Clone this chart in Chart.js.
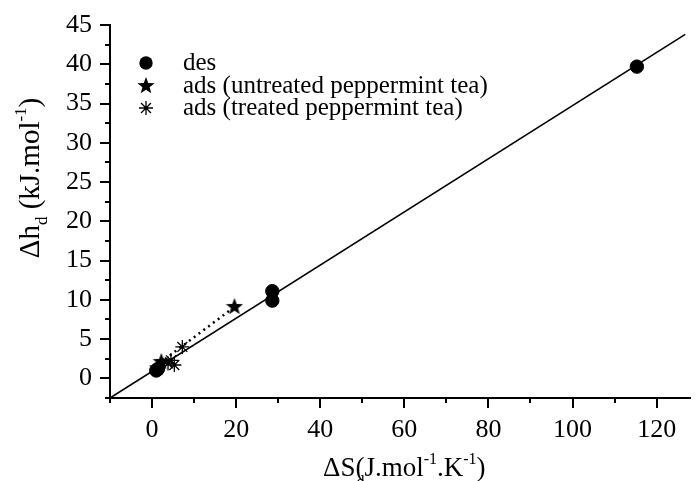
<!DOCTYPE html>
<html>
<head>
<meta charset="utf-8">
<script src="https://cdn.jsdelivr.net/npm/chart.js@4/dist/chart.umd.min.js"></script>
<style>
  html, body { margin: 0; padding: 0; background: #fff; }
  #wrap { width: 699px; height: 481px; }
</style>
</head>
<body>
<div id="wrap"><canvas id="chart" width="699" height="481"></canvas></div>
<script>
// desorption
const desX = [1.0, 1.4, 28.6, 28.6, 115.3];
const desY = [1.0, 1.2, 9.9, 11.1, 39.7];
// adsorption, untreated peppermint tea
const untreatedX = [1.3, 2.2, 19.6];
const untreatedY = [1.3, 2.1, 9.1];
// adsorption, treated peppermint tea
const treatedX = [3.8, 4.5, 5.3, 7.2];
const treatedY = [1.9, 2.3, 1.7, 4.0];
// ends of the fitted straight line
const fitX = [-10, 126.8];
const fitY = [-2.5, 43.8];

const seriesNames = ['des', 'ads (untreated peppermint tea)', 'ads (treated peppermint tea)'];
const xMajor = [0, 20, 40, 60, 80, 100, 120];
const yMajor = [0, 5, 10, 15, 20, 25, 30, 35, 40, 45];

const FONT = "'Liberation Serif', 'Times New Roman', serif";

const pairs = (xs, ys) => xs.map((x, i) => ({x: x, y: ys[i]}));

// filled five point star marker
function makeStar(size) {
  const c = document.createElement('canvas');
  c.width = size;
  c.height = size;
  const g = c.getContext('2d');
  const r = size / 2, ri = r * 0.42;
  g.beginPath();
  for (let i = 0; i < 10; i++) {
    const a = -Math.PI / 2 + i * Math.PI / 5;
    const rr = i % 2 ? ri : r;
    g.lineTo(r + rr * Math.cos(a), r + rr * Math.sin(a));
  }
  g.closePath();
  g.fillStyle = '#000';
  g.fill();
  return c;
}
const starImg = makeStar(18);

/**
 * Width and drawing of a label made of normal / sub / sup parts
 */
function richWidth(ctx, parts, size) {
  let w = 0;
  parts.forEach(p => {
    ctx.font = (p.k === 'n' ? size : Math.round(size * 0.6)) + 'px ' + FONT;
    w += p.adv === 0 ? 0 : ctx.measureText(p.t).width;
  });
  return w;
}
function drawRich(ctx, parts, x, y, size) {
  parts.forEach(p => {
    ctx.font = (p.k === 'n' ? size : Math.round(size * 0.6)) + 'px ' + FONT;
    let dy = p.k === 'sub' ? size * 0.28 : p.k === 'sup' ? -size * 0.44 : 0;
    if (p.dy !== undefined) dy = p.dy;
    ctx.fillText(p.t, x + (p.dx || 0), y + dy);
    if (p.adv !== 0) x += ctx.measureText(p.t).width;
  });
}

const xTitle = [
  {t: 'ΔS', k: 'n'}, {t: 'd', k: 'sub', adv: 0, dx: 1, dy: 11}, {t: '(J.mol', k: 'n'},
  {t: '-1', k: 'sup'}, {t: '.K', k: 'n'}, {t: '-1', k: 'sup'}, {t: ')', k: 'n'}
];
const yTitle = [
  {t: 'Δh', k: 'n'}, {t: 'd', k: 'sub'}, {t: ' (kJ.mol', k: 'n'},
  {t: '-1', k: 'sup'}, {t: ')', k: 'n'}
];

const decor = {
  id: 'decor',
  afterDraw(chart) {
    const ctx = chart.ctx;
    const xs = chart.scales.x, ys = chart.scales.y;
    ctx.save();
    ctx.strokeStyle = '#000';
    ctx.fillStyle = '#000';
    ctx.lineWidth = 2;
    // tick marks, long for labelled ones
    xs.ticks.forEach(t => {
      const px = Math.round(xs.getPixelForValue(t.value));
      const len = xMajor.includes(t.value) ? 10 : 5;
      ctx.beginPath();
      ctx.moveTo(px, xs.top);
      ctx.lineTo(px, xs.top + len);
      ctx.stroke();
    });
    ys.ticks.forEach(t => {
      const py = Math.round(ys.getPixelForValue(t.value));
      const len = yMajor.includes(t.value) ? 10 : 5;
      ctx.beginPath();
      ctx.moveTo(ys.right, py);
      ctx.lineTo(ys.right - len, py);
      ctx.stroke();
    });

    // axis titles
    ctx.textBaseline = 'alphabetic';
    ctx.textAlign = 'left';
    const area = chart.chartArea;
    const xw = richWidth(ctx, xTitle, 27);
    drawRich(ctx, xTitle, (area.left + area.right) / 2 - xw / 2 + 4, 476, 27);
    const yw = richWidth(ctx, yTitle, 29);
    ctx.save();
    ctx.translate(39, 178);
    ctx.rotate(-Math.PI / 2);
    drawRich(ctx, yTitle, -yw / 2, 0, 29);
    ctx.restore();

    // legend
    const mx = 146, tx = 183, rows = [63, 86, 108];
    ctx.textBaseline = 'middle';
    ctx.font = '25px ' + FONT;
    seriesNames.forEach((name, i) => {
      const y = rows[i];
      if (i === 0) {
        ctx.beginPath();
        ctx.arc(mx, y, 6.7, 0, Math.PI * 2);
        ctx.fill();
      } else if (i === 1) {
        ctx.drawImage(starImg, mx - starImg.width / 2, y - starImg.height / 2);
      } else {
        ctx.lineWidth = 1.3;
        const r = 7;
        ctx.beginPath();
        for (let k = 0; k < 4; k++) {
          const a = k * Math.PI / 4;
          ctx.moveTo(mx - r * Math.cos(a), y - r * Math.sin(a));
          ctx.lineTo(mx + r * Math.cos(a), y + r * Math.sin(a));
        }
        ctx.stroke();
      }
      ctx.fillText(name, tx, y);
    });
    ctx.restore();
  }
};

new Chart(document.getElementById('chart'), {
  type: 'scatter',
  data: {
    datasets: [
      {
        label: seriesNames[0],
        data: pairs(desX, desY),
        pointStyle: 'circle',
        pointRadius: 6.7,
        backgroundColor: '#000',
        borderColor: '#000',
        showLine: false
      },
      {
        label: seriesNames[1],
        data: pairs(untreatedX, untreatedY),
        pointStyle: starImg,
        showLine: true,
        borderColor: '#000',
        borderWidth: 2.5,
        borderDash: [2, 4]
      },
      {
        label: seriesNames[2],
        data: pairs(treatedX, treatedY),
        pointStyle: 'star',
        pointRadius: 7,
        borderColor: '#000',
        pointBorderWidth: 1.3,
        showLine: false
      },
      {
        label: 'fit',
        data: pairs(fitX, fitY),
        showLine: true,
        pointRadius: 0,
        borderColor: '#000',
        borderWidth: 1.6
      }
    ]
  },
  options: {
    responsive: false,
    animation: false,
    devicePixelRatio: 1,
    layout: {padding: {top: 25, right: 0, left: 0, bottom: 0}},
    plugins: {
      legend: {display: false},
      tooltip: {enabled: false}
    },
    scales: {
      x: {
        type: 'linear',
        min: -10,
        max: 128.1,
        afterFit: scale => { scale.height = 83; },
        border: {display: true, color: '#000', width: 2},
        grid: {display: true, drawOnChartArea: false, drawTicks: true, tickLength: 10, tickColor: 'rgba(0,0,0,0)'},
        ticks: {
          stepSize: 10,
          includeBounds: false,
          autoSkip: false,
          maxRotation: 0,
          padding: 7,
          color: '#000',
          font: {family: FONT, size: 26},
          callback: v => xMajor.includes(v) ? String(v) : ''
        }
      },
      y: {
        type: 'linear',
        min: -2.5,
        max: 45,
        afterFit: scale => { scale.width = 110; },
        border: {display: true, color: '#000', width: 2},
        grid: {display: true, drawOnChartArea: false, drawTicks: true, tickLength: 10, tickColor: 'rgba(0,0,0,0)'},
        ticks: {
          stepSize: 2.5,
          includeBounds: false,
          autoSkip: false,
          padding: 8,
          color: '#000',
          font: {family: FONT, size: 26},
          callback: v => yMajor.includes(v) ? String(v) : ''
        }
      }
    }
  },
  plugins: [decor]
});
</script>
</body>
</html>
